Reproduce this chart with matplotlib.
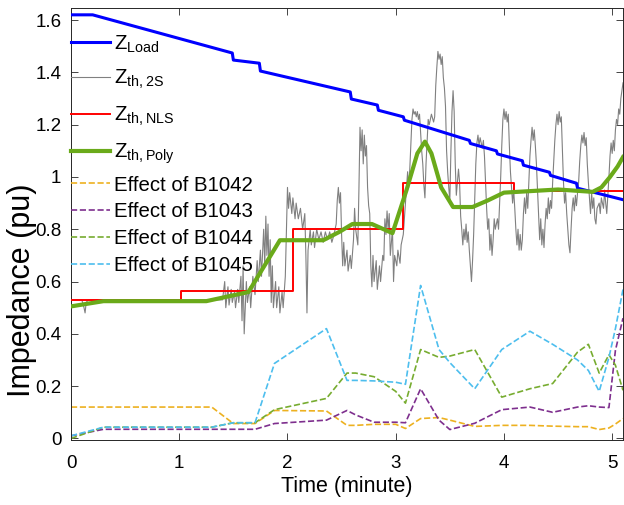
import numpy as np
import matplotlib
matplotlib.use("Agg")
import matplotlib.pyplot as plt
from matplotlib.ticker import FuncFormatter

plt.rcParams['font.family'] = ['Liberation Sans', 'DejaVu Sans']
plt.rcParams['mathtext.default'] = 'regular'

# Z_Load (blue) - small step drops along a slow decline
load_t = [0.0, 0.2, 1.49, 1.50, 1.74, 1.75, 2.58, 2.59, 2.83, 2.84, 3.07, 3.08, 3.68, 3.69,
          3.93, 3.94, 4.17, 4.18, 4.42, 4.43, 4.67, 4.68, 5.1]
load_y = [1.62, 1.62, 1.474, 1.447, 1.435, 1.405, 1.325, 1.298, 1.275, 1.255, 1.23, 1.217, 1.14, 1.128,
          1.10, 1.088, 1.062, 1.045, 1.018, 1.006, 0.976, 0.957, 0.913]

# Z_th,2S (gray, noisy)
th2s = [(0.00, 0.53), (0.10, 0.53), (0.12, 0.50), (0.13, 0.48), (0.14, 0.52), (0.16, 0.53), (1.40, 0.53),
        (1.42, 0.60), (1.43, 0.50), (1.45, 0.58), (1.46, 0.51), (1.48, 0.57), (1.49, 0.52), (1.51, 0.56),
        (1.52, 0.50), (1.54, 0.57), (1.55, 0.52), (1.57, 0.62), (1.58, 0.45), (1.59, 0.66), (1.60, 0.40),
        (1.62, 0.60), (1.63, 0.52), (1.65, 0.58), (1.66, 0.50), (1.68, 0.62), (1.70, 0.55), (1.72, 0.68),
        (1.73, 0.60), (1.75, 0.72), (1.76, 0.62), (1.78, 0.80), (1.79, 0.66), (1.80, 0.85), (1.81, 0.70),
        (1.82, 0.82), (1.83, 0.62), (1.84, 0.76), (1.85, 0.52), (1.86, 0.66), (1.87, 0.50), (1.89, 0.60),
        (1.90, 0.50), (1.92, 0.58), (1.93, 0.48), (1.95, 0.56), (1.96, 0.50), (1.98, 0.62), (2.00, 0.96),
        (2.01, 0.88), (2.02, 0.94), (2.04, 0.86), (2.05, 0.92), (2.07, 0.84), (2.08, 0.90), (2.10, 0.84),
        (2.12, 0.88), (2.14, 0.80), (2.16, 0.86), (2.17, 0.70), (2.18, 0.48), (2.19, 0.72), (2.21, 0.80),
        (2.22, 0.74), (2.24, 0.79), (2.25, 0.73), (2.27, 0.80), (2.29, 0.76), (2.31, 0.79), (2.33, 0.75),
        (2.35, 0.79), (2.37, 0.76), (2.39, 0.79), (2.41, 0.75), (2.43, 0.78), (2.45, 0.82), (2.46, 0.91),
        (2.47, 0.96), (2.48, 0.90), (2.49, 0.94), (2.50, 0.78), (2.51, 0.66), (2.52, 0.75), (2.53, 0.66),
        (2.55, 0.72), (2.56, 0.64), (2.58, 0.70), (2.59, 0.65), (2.61, 0.76), (2.62, 0.88), (2.63, 0.80),
        (2.65, 0.74), (2.66, 0.95), (2.67, 1.19), (2.68, 1.10), (2.69, 1.18), (2.70, 1.05), (2.71, 1.16),
        (2.72, 1.08), (2.73, 1.12), (2.74, 0.96), (2.75, 0.89), (2.76, 0.86), (2.77, 0.66), (2.78, 0.58),
        (2.79, 0.70), (2.80, 0.60), (2.82, 0.68), (2.83, 0.57), (2.85, 0.66), (2.86, 0.60), (2.88, 0.70),
        (2.89, 0.68), (2.90, 0.84), (2.91, 0.78), (2.92, 0.87), (2.93, 0.80), (2.94, 0.86), (2.95, 0.70),
        (2.97, 0.80), (2.98, 0.60), (2.99, 0.70), (3.01, 0.66), (3.02, 0.72), (3.04, 0.67), (3.05, 0.74),
        (3.07, 0.78), (3.09, 0.90), (3.11, 1.02), (3.12, 0.96), (3.13, 1.03), (3.15, 1.22), (3.16, 1.26),
        (3.17, 1.24), (3.18, 1.25), (3.19, 1.23), (3.20, 1.25), (3.21, 1.22), (3.22, 1.24), (3.24, 1.10),
        (3.25, 1.05), (3.26, 0.97), (3.27, 0.92), (3.28, 1.05), (3.30, 1.22), (3.31, 1.20), (3.33, 1.24),
        (3.35, 1.21), (3.36, 1.23), (3.37, 1.35), (3.38, 1.42), (3.39, 1.48), (3.40, 1.45), (3.41, 1.47),
        (3.42, 1.43), (3.43, 1.46), (3.44, 1.38), (3.45, 1.34), (3.46, 1.27), (3.47, 1.10), (3.48, 1.02),
        (3.49, 0.96), (3.50, 0.91), (3.51, 1.10), (3.52, 1.25), (3.53, 1.33), (3.54, 1.25), (3.55, 1.05),
        (3.56, 0.93), (3.57, 0.98), (3.58, 1.03), (3.59, 0.98), (3.60, 0.85), (3.61, 0.80), (3.62, 0.74),
        (3.63, 0.80), (3.64, 0.76), (3.65, 0.82), (3.66, 0.75), (3.67, 0.79), (3.68, 0.72), (3.69, 0.66),
        (3.70, 0.60), (3.71, 0.68), (3.72, 0.78), (3.73, 0.92), (3.74, 1.05), (3.75, 1.13), (3.76, 1.16),
        (3.77, 1.12), (3.78, 1.15), (3.80, 1.11), (3.81, 1.14), (3.82, 1.08), (3.83, 0.98), (3.84, 0.88),
        (3.85, 0.80), (3.86, 0.84), (3.87, 0.72), (3.88, 0.78), (3.89, 0.70), (3.90, 0.76), (3.91, 0.84),
        (3.92, 0.80), (3.94, 0.84), (3.95, 0.80), (3.96, 0.90), (3.97, 1.00), (3.98, 1.12), (3.99, 1.22),
        (4.00, 1.26), (4.01, 1.22), (4.02, 1.25), (4.03, 1.21), (4.04, 1.24), (4.05, 1.12), (4.06, 1.02),
        (4.07, 0.96), (4.08, 0.90), (4.09, 0.95), (4.10, 0.88), (4.11, 0.80), (4.12, 0.74), (4.13, 0.80),
        (4.14, 0.72), (4.15, 0.78), (4.16, 0.72), (4.17, 0.76), (4.18, 0.86), (4.19, 0.92), (4.20, 0.86),
        (4.21, 0.94), (4.22, 0.88), (4.23, 0.98), (4.24, 1.08), (4.25, 1.14), (4.26, 1.19), (4.27, 1.14),
        (4.28, 1.18), (4.29, 1.12), (4.30, 1.05), (4.31, 0.95), (4.32, 0.86), (4.33, 0.76), (4.34, 0.84),
        (4.35, 0.74), (4.36, 0.80), (4.37, 0.73), (4.38, 0.82), (4.39, 0.88), (4.40, 0.84), (4.41, 0.92),
        (4.42, 0.86), (4.43, 0.91), (4.44, 0.88), (4.45, 0.98), (4.46, 1.06), (4.47, 1.14), (4.48, 1.20),
        (4.49, 1.24), (4.50, 1.20), (4.51, 1.25), (4.52, 1.21), (4.53, 1.23), (4.54, 1.10), (4.55, 0.98),
        (4.56, 0.90), (4.57, 0.94), (4.58, 0.86), (4.59, 0.80), (4.60, 0.74), (4.61, 0.71), (4.62, 0.80),
        (4.63, 0.88), (4.64, 0.92), (4.65, 0.87), (4.66, 0.93), (4.67, 0.89), (4.68, 0.94), (4.69, 0.98),
        (4.70, 1.06), (4.71, 1.12), (4.72, 1.16), (4.73, 1.13), (4.74, 1.17), (4.75, 1.12), (4.76, 1.15),
        (4.77, 1.05), (4.78, 0.98), (4.79, 0.92), (4.80, 0.86), (4.81, 0.94), (4.82, 0.88), (4.83, 0.92),
        (4.84, 0.84), (4.85, 0.82), (4.86, 0.88), (4.88, 0.90), (4.89, 0.86), (4.90, 0.92), (4.92, 0.88),
        (4.93, 0.95), (4.94, 0.90), (4.95, 0.86), (4.96, 0.93), (4.97, 1.00), (4.98, 1.08), (4.99, 1.13),
        (5.00, 1.09), (5.01, 1.14), (5.02, 1.10), (5.03, 1.18), (5.04, 1.22), (5.05, 1.20), (5.06, 1.26),
        (5.07, 1.24), (5.08, 1.30), (5.10, 1.36)]

# Z_th,NLS (red step)
nls_t = [0.0, 1.02, 2.05, 3.07, 4.09, 5.1]
nls_y = [0.53, 0.565, 0.80, 0.978, 0.948, 0.948]

# Z_th,Poly (green)
poly_t = [0.0, 0.3, 1.25, 1.64, 1.93, 2.33, 2.48, 2.6, 2.78, 2.97, 3.1, 3.2, 3.27, 3.33, 3.42, 3.53,
          3.71, 3.85, 4.0, 4.5, 4.82, 4.9, 4.98, 5.05, 5.1]
poly_y = [0.505, 0.525, 0.525, 0.56, 0.758, 0.758, 0.79, 0.82, 0.82, 0.785, 0.95, 1.09, 1.135, 1.09,
          0.96, 0.885, 0.885, 0.91, 0.94, 0.952, 0.943, 0.96, 1.0, 1.04, 1.076]

# Effect of buses (dashed)
bus_t = [0.0, 0.3, 1.3, 1.5, 1.7, 1.88, 2.36, 2.55, 2.63, 2.8, 3.0, 3.09, 3.23, 3.4, 3.5, 3.73, 3.98,
         4.24, 4.45, 4.68, 4.78, 4.88, 4.97, 5.03, 5.1]
b1042 = [0.12, 0.12, 0.12, 0.057, 0.057, 0.107, 0.105, 0.05, 0.05, 0.054, 0.054, 0.038, 0.076, 0.08,
         0.07, 0.046, 0.05, 0.05, 0.047, 0.045, 0.045, 0.034, 0.04, 0.055, 0.076]
b1043 = [0.01, 0.035, 0.035, 0.035, 0.035, 0.057, 0.07, 0.107, 0.09, 0.062, 0.062, 0.06, 0.19, 0.07,
         0.034, 0.058, 0.11, 0.12, 0.10, 0.12, 0.125, 0.12, 0.118, 0.337, 0.46]
b1044 = [0.0, 0.043, 0.043, 0.06, 0.06, 0.11, 0.153, 0.25, 0.25, 0.236, 0.18, 0.135, 0.34, 0.31, 0.315,
         0.34, 0.158, 0.19, 0.21, 0.33, 0.36, 0.25, 0.32, 0.28, 0.184]
b1045 = [0.01, 0.043, 0.043, 0.06, 0.06, 0.287, 0.42, 0.222, 0.222, 0.22, 0.215, 0.207, 0.585, 0.34,
         0.29, 0.19, 0.34, 0.41, 0.36, 0.30, 0.26, 0.18, 0.31, 0.42, 0.57]

fig = plt.figure(figsize=(6.24, 5.05), dpi=100)
ax = fig.add_axes([0.1138, 0.1287, 0.8846, 0.8554])

z_lines = []
z_lines += ax.plot(load_t, load_y, color='#0000FF', lw=2.2, label=r'$Z_{Load}$', zorder=5)
gx, gy = zip(*th2s)
z_lines += ax.plot(gx, gy, color='#808080', lw=0.8, label=r'$Z_{th,2S}$', zorder=3)
z_lines += ax.step(nls_t, nls_y, where='post', color='#FF0000', lw=1.4, label=r'$Z_{th,NLS}$', zorder=4)
z_lines += ax.plot(poly_t, poly_y, color='#6AAA1A', lw=3.0, label=r'$Z_{th,Poly}$', zorder=6)
bus_lines = []
bus_lines += ax.plot(bus_t, b1042, '--', color='#EDB120', lw=1.2, label='Effect of B1042')
bus_lines += ax.plot(bus_t, b1043, '--', color='#7E2F8E', lw=1.2, label='Effect of B1043')
bus_lines += ax.plot(bus_t, b1044, '--', color='#77AC30', lw=1.2, label='Effect of B1044')
bus_lines += ax.plot(bus_t, b1045, '--', color='#4DBEEE', lw=1.2, label='Effect of B1045')

ax.set_xlim(0, 5.1)
ax.set_ylim(-0.006, 1.646)
ax.set_xticks([0, 1, 2, 3, 4, 5])
ax.set_yticks([0, 0.2, 0.4, 0.6, 0.8, 1.0, 1.2, 1.4, 1.6])
ax.yaxis.set_major_formatter(FuncFormatter(lambda v, p: f'{v:g}'))
ax.tick_params(direction='in', top=True, right=True, labelsize=13.5, length=5, width=0.6,
               colors='#262626', labelcolor='black')
ax.tick_params(axis='x', pad=11)
ax.tick_params(axis='y', pad=7)
for s in ax.spines.values():
    s.set_linewidth(0.7)
    s.set_color('#262626')
ax.set_xlabel('Time (minute)', fontsize=15.5, labelpad=3)
ax.set_ylabel('Impedance (pu)', fontsize=22)
ax.yaxis.set_label_coords(-0.062, 0.347)

leg1 = ax.legend(handles=z_lines, loc='upper left', bbox_to_anchor=(0.0, 0.941), frameon=False,
                 borderaxespad=0, borderpad=0, fontsize=14.7, handlelength=1.9, handletextpad=0.2,
                 labelspacing=0.66)
ax.add_artist(leg1)
ax.legend(handles=bus_lines, loc='upper left', bbox_to_anchor=(0.0, 0.612), frameon=False,
          borderaxespad=0, borderpad=0, fontsize=14.7, handlelength=1.9, handletextpad=0.2,
          labelspacing=0.38)

fig.savefig('out.png', dpi=100)
